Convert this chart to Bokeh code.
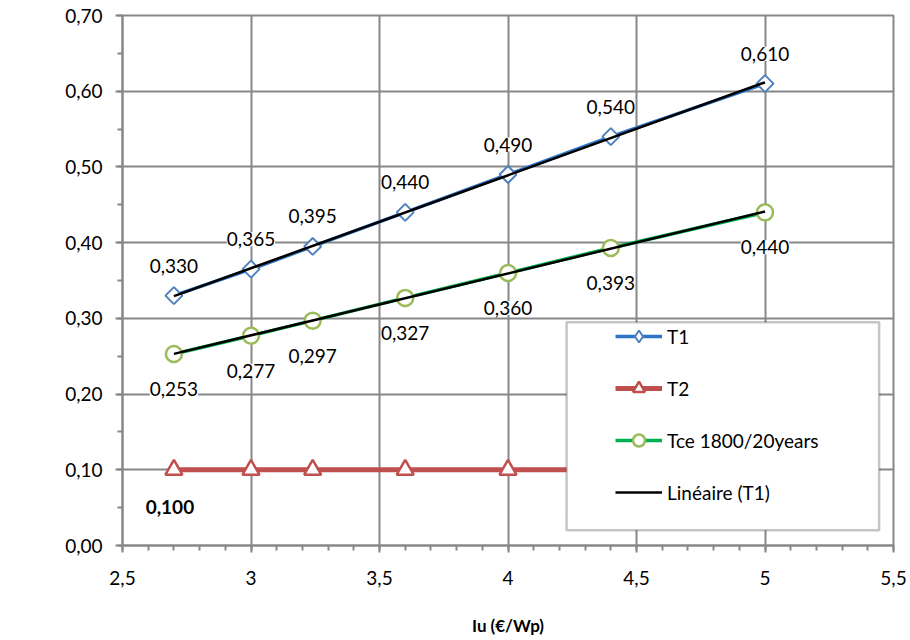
import numpy as np
from bokeh.plotting import figure
from bokeh.models import (ColumnDataSource, LabelSet, FixedTicker, CustomJSTickFormatter,
                          Legend, LegendItem, BoxAnnotation)
from bokeh.core.properties import value
from bokeh.embed import file_html
from bokeh.resources import INLINE

# Unit price Iu (€/Wp) and the tariffs computed for each price
iu = [2.7, 3.0, 3.24, 3.6, 4.0, 4.4, 5.0]
t1 = [0.330, 0.365, 0.395, 0.440, 0.490, 0.540, 0.610]
t2 = [0.100, 0.100, 0.100, 0.100, 0.100, 0.100, 0.100]
tce = [0.253, 0.277, 0.297, 0.327, 0.360, 0.393, 0.440]

x_ticks = [2.5, 3.0, 3.5, 4.0, 4.5, 5.0, 5.5]
y_ticks = [0.0, 0.1, 0.2, 0.3, 0.4, 0.5, 0.6, 0.7]

FONT = "Lato"
FS = "19px"
GRID = "#878787"
BLUE_LINE, BLUE_MARK = "#2E75C6", "#4F81BD"
RED = "#C0504D"
GREEN_LINE, GREEN_MARK = "#00B050", "#9BBB59"


def fmt(v):
    return f"{v:.3f}".replace(".", ",")


p = figure(width=910, height=640, x_range=(2.5, 5.5), y_range=(0.0, 0.7),
           output_backend="svg", toolbar_location=None,
           min_border_left=122, min_border_right=17, min_border_top=15, min_border_bottom=95)
p.background_fill_color = "white"
p.border_fill_color = "white"
p.outline_line_color = GRID
p.outline_line_width = 2

# axes
p.xaxis.ticker = FixedTicker(ticks=x_ticks, minor_ticks=list(np.round(np.arange(2.5, 5.51, 0.1), 2)))
p.yaxis.ticker = FixedTicker(ticks=y_ticks, minor_ticks=list(np.round(np.arange(0.0, 0.71, 0.05), 2)))
p.xaxis.formatter = CustomJSTickFormatter(code="return String(Math.round(tick*10)/10).replace('.', ',');")
p.yaxis.formatter = CustomJSTickFormatter(code="return tick.toFixed(2).replace('.', ',');")
for ax in (p.xaxis, p.yaxis):
    ax.axis_line_color = GRID
    ax.axis_line_width = 2
    ax.major_tick_line_color = GRID
    ax.minor_tick_line_color = GRID
    ax.major_tick_line_width = 2
    ax.minor_tick_line_width = 2
    ax.major_tick_in = 0
    ax.minor_tick_in = 0
    ax.major_tick_out = 7
    ax.minor_tick_out = 5
    ax.major_label_text_font = FONT
    ax.major_label_text_font_size = FS
    ax.major_label_text_color = "black"
p.yaxis.major_label_standoff = 13
p.xaxis.major_label_standoff = 18
p.xaxis.axis_label = "Iu (€/Wp)"
p.xaxis.axis_label_text_font = FONT
p.xaxis.axis_label_text_font_size = "17px"
p.xaxis.axis_label_text_font_style = "bold"
p.xaxis.axis_label_text_color = "black"
p.xaxis.axis_label_standoff = 27

p.grid.grid_line_color = GRID
p.grid.grid_line_width = 2

src = ColumnDataSource(dict(x=iu, t1=t1, t2=t2, tce=tce,
                            t1_lbl=[fmt(v) for v in t1],
                            tce_lbl=[fmt(v) for v in tce]))

# series
l2 = p.line("x", "t2", source=src, line_color=RED, line_width=5)
m2 = p.scatter("x", "t2", source=src, marker="triangle", size=17,
               fill_color="white", line_color=RED, line_width=2.5)
l1 = p.line("x", "t1", source=src, line_color=BLUE_LINE, line_width=3.5)
p.scatter("x", "t1", source=src, marker="square", angle=np.pi / 4, size=12,
          fill_color="white", line_color=BLUE_MARK, line_width=2)
l3 = p.line("x", "tce", source=src, line_color=GREEN_LINE, line_width=3.5)
m3 = p.scatter("x", "tce", source=src, marker="circle", size=16,
               fill_color="white", line_color=GREEN_MARK, line_width=2.5)

# diamond key used only by the legend entry of T1 (its point is never drawn)
key1 = p.scatter(x=[np.nan], y=[np.nan], marker="diamond", size=19,
                 fill_color="white", line_color=BLUE_MARK, line_width=2)

# linear trend lines
xs = np.array([min(iu), max(iu)])
a1, b1 = np.polyfit(iu, t1, 1)
a3, b3 = np.polyfit(iu, tce, 1)
tr1 = p.line(xs, a1 * xs + b1, line_color="black", line_width=2.5)
p.line(xs, a3 * xs + b3, line_color="black", line_width=2.5)

# data labels
common = dict(source=src, x="x", text_font=value(FONT), text_font_size=value(FS),
              text_color="black", text_align="center", text_baseline="middle",
              background_fill_color="white")
p.add_layout(LabelSet(y="t1", text="t1_lbl", y_offset=30, **common))
p.add_layout(LabelSet(y="tce", text="tce_lbl", y_offset=-35, **common))
first = ColumnDataSource(dict(x=iu[:1], y=t2[:1], lbl=[fmt(t2[0])]))
p.add_layout(LabelSet(source=first, x="x", y="y", text="lbl", x_offset=-4, y_offset=-37,
                      text_font=value(FONT), text_font_size=value(FS),
                      text_font_style="bold", text_color="black",
                      text_align="center", text_baseline="middle"))

# legend frame
p.add_layout(BoxAnnotation(left=4.228, right=5.444, bottom=0.02, top=0.295,
                           fill_color="white", fill_alpha=1.0,
                           line_color="#404040", line_width=2.5))

legend = Legend(items=[
    LegendItem(label="T1", renderers=[l1, key1]),
    LegendItem(label="T2", renderers=[l2, m2]),
    LegendItem(label="Tce 1800/20years", renderers=[l3, m3]),
    LegendItem(label="Linéaire (T1)", renderers=[tr1]),
], location=(493, 38))
legend.padding = 0
legend.margin = 0
legend.spacing = 22
legend.label_height = 30
legend.glyph_height = 30
legend.glyph_width = 47
legend.label_standoff = 5
legend.border_line_alpha = 0
legend.background_fill_alpha = 0
legend.label_text_font = FONT
legend.label_text_font_size = FS
legend.label_text_color = "black"
p.add_layout(legend)

open("out.html", "w").write(file_html(p, INLINE))
